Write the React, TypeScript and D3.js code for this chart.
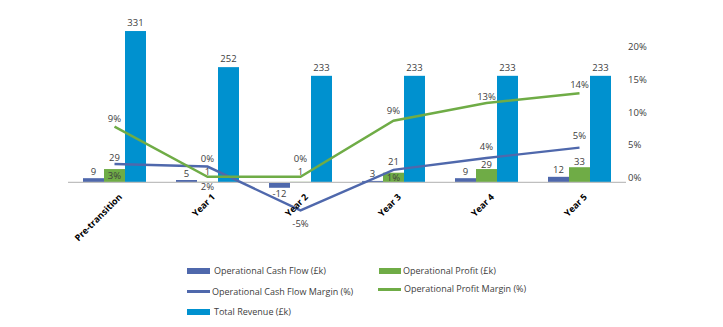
import React from "react";
import * as d3 from "d3";

const categories = ["Pre-transition", "Year 1", "Year 2", "Year 3", "Year 4", "Year 5"];
const cashFlow = [9, 5, -12, 3, 9, 12];
const opProfit = [29, 1, 1, 21, 29, 33];
const revenue = [331, 252, 233, 233, 233, 233];
const cashFlowMargin = [2.1, 1.7, -5.0, 1.2, 3.0, 4.6];
const profitMargin = [7.8, 0.15, 0.15, 8.7, 11.4, 12.9];
const cashFlowMarginLabels = ["3%", "2%", "-5%", "1%", "4%", "5%"];
const profitMarginLabels = ["9%", "0%", "0%", "9%", "13%", "14%"];
const rightTicks = [0, 5, 10, 15, 20];

// label nudges (layout only, px relative to the mark)
const LAYOUT = {
  cashMarginDy: [15.5, 23, 16.5, 11.5, -8.5, -9],
  profitMarginDy: [-4.5, -15, -15, -7, -3.5, -5.5],
  profitBarDy: [-8.5, -7, -7, -7.5, -1.5, -2.5],
};

const C_CASH = "#4F68AC";
const C_PROFIT = "#6FAC46";
const C_REV = "#0091CF";
const C_TEXT = "#404040";
const FONT = "'Open Sans', sans-serif";

export default function App() {
  const x = d3.scaleBand<string>().domain(categories).range([68, 626]).paddingInner(0.3226).paddingOuter(0.1613);
  const inner = d3.scaleBand<string>().domain(["cash", "profit", "rev"]).range([0, x.bandwidth()]).padding(0);
  const yL = d3.scaleLinear().domain([0, 350]).range([182.3, 182.3 - 350 * 0.457]);
  const yR = d3.scaleLinear().domain([0, 20]).range([177.7, 46.7]);

  const cx = (c: string) => (x(c) as number) + x.bandwidth() / 2;
  const line = d3
    .line<number>()
    .x((_, i) => cx(categories[i]))
    .y((d) => yR(d));

  const series = [
    { key: "cash", vals: cashFlow, color: C_CASH },
    { key: "profit", vals: opProfit, color: C_PROFIT },
    { key: "rev", vals: revenue, color: C_REV },
  ];

  const barLabelY = (key: string, v: number, i: number) => {
    if (v < 0) return yL(v) + 9;
    if (key === "profit") return yL(v) + LAYOUT.profitBarDy[i];
    if (key === "cash") return yL(v) - 3.5;
    return yL(v) - 5;
  };

  return (
    <svg width={723} height={327} style={{ position: "absolute", left: 0, top: 0, background: "#fff" }} fontFamily={FONT}>
      {series.map((s) =>
        s.vals.map((v, i) => {
          const bx = (x(categories[i]) as number) + (inner(s.key) as number);
          const y0 = yL(0);
          const y1 = yL(v);
          return (
            <rect key={s.key + i} x={bx} y={Math.min(y0, y1)} width={inner.bandwidth()} height={Math.abs(y1 - y0)} fill={s.color} />
          );
        })
      )}
      <line x1={68} x2={626} y1={yL(0)} y2={yL(0)} stroke="#BFBFBF" strokeWidth={1.3} />
      <path d={line(cashFlowMargin) || ""} fill="none" stroke={C_CASH} strokeWidth={2.4} />
      <path d={line(profitMargin) || ""} fill="none" stroke={C_PROFIT} strokeWidth={2.4} />
      {series.map((s) =>
        s.vals.map((v, i) => {
          const bx = (x(categories[i]) as number) + (inner(s.key) as number) + inner.bandwidth() / 2;
          return (
            <text key={"l" + s.key + i} x={bx} y={barLabelY(s.key, v, i)} fontSize={9.5} fill={C_TEXT} textAnchor="middle">
              {v}
            </text>
          );
        })
      )}
      {cashFlowMargin.map((v, i) => (
        <text key={"cm" + i} x={cx(categories[i])} y={yR(v) + LAYOUT.cashMarginDy[i]} fontSize={9.5} fill={C_TEXT} textAnchor="middle">
          {cashFlowMarginLabels[i]}
        </text>
      ))}
      {profitMargin.map((v, i) => (
        <text key={"pm" + i} x={cx(categories[i])} y={yR(v) + LAYOUT.profitMarginDy[i]} fontSize={9.5} fill={C_TEXT} textAnchor="middle">
          {profitMarginLabels[i]}
        </text>
      ))}
      {rightTicks.map((t) => (
        <text key={"rt" + t} x={628} y={yR(t)} dy="0.35em" fontSize={9.5} fill={C_TEXT}>
          {t}%
        </text>
      ))}
      {categories.map((c) => (
        <text
          key={"x" + c}
          transform={`translate(${cx(c) + 6},${yL(0) + 13}) rotate(-45)`}
          textAnchor="end"
          dy="0.35em"
          fontSize={9}
          fontWeight="bold"
          fill="#000"
        >
          {c}
        </text>
      ))}
      <g fontSize={9} fill={C_TEXT}>
        <rect x={187} y={268} width={23} height={6} fill={C_CASH} />
        <text x={214} y={271} dy="0.35em">Operational Cash Flow (£k)</text>
        <rect x={187} y={290} width={23} height={3} fill={C_CASH} />
        <text x={212} y={291.5} dy="0.35em">Operational Cash Flow Margin (%)</text>
        <rect x={187} y={309} width={23} height={6} fill={C_REV} />
        <text x={214} y={312} dy="0.35em">Total Revenue (£k)</text>
        <rect x={379} y={268} width={22} height={6} fill={C_PROFIT} />
        <text x={403} y={271} dy="0.35em">Operational Profit (£k)</text>
        <rect x={378} y={288} width={23} height={3} fill={C_PROFIT} />
        <text x={404} y={289} dy="0.35em">Operational Profit Margin (%)</text>
      </g>
    </svg>
  );
}
